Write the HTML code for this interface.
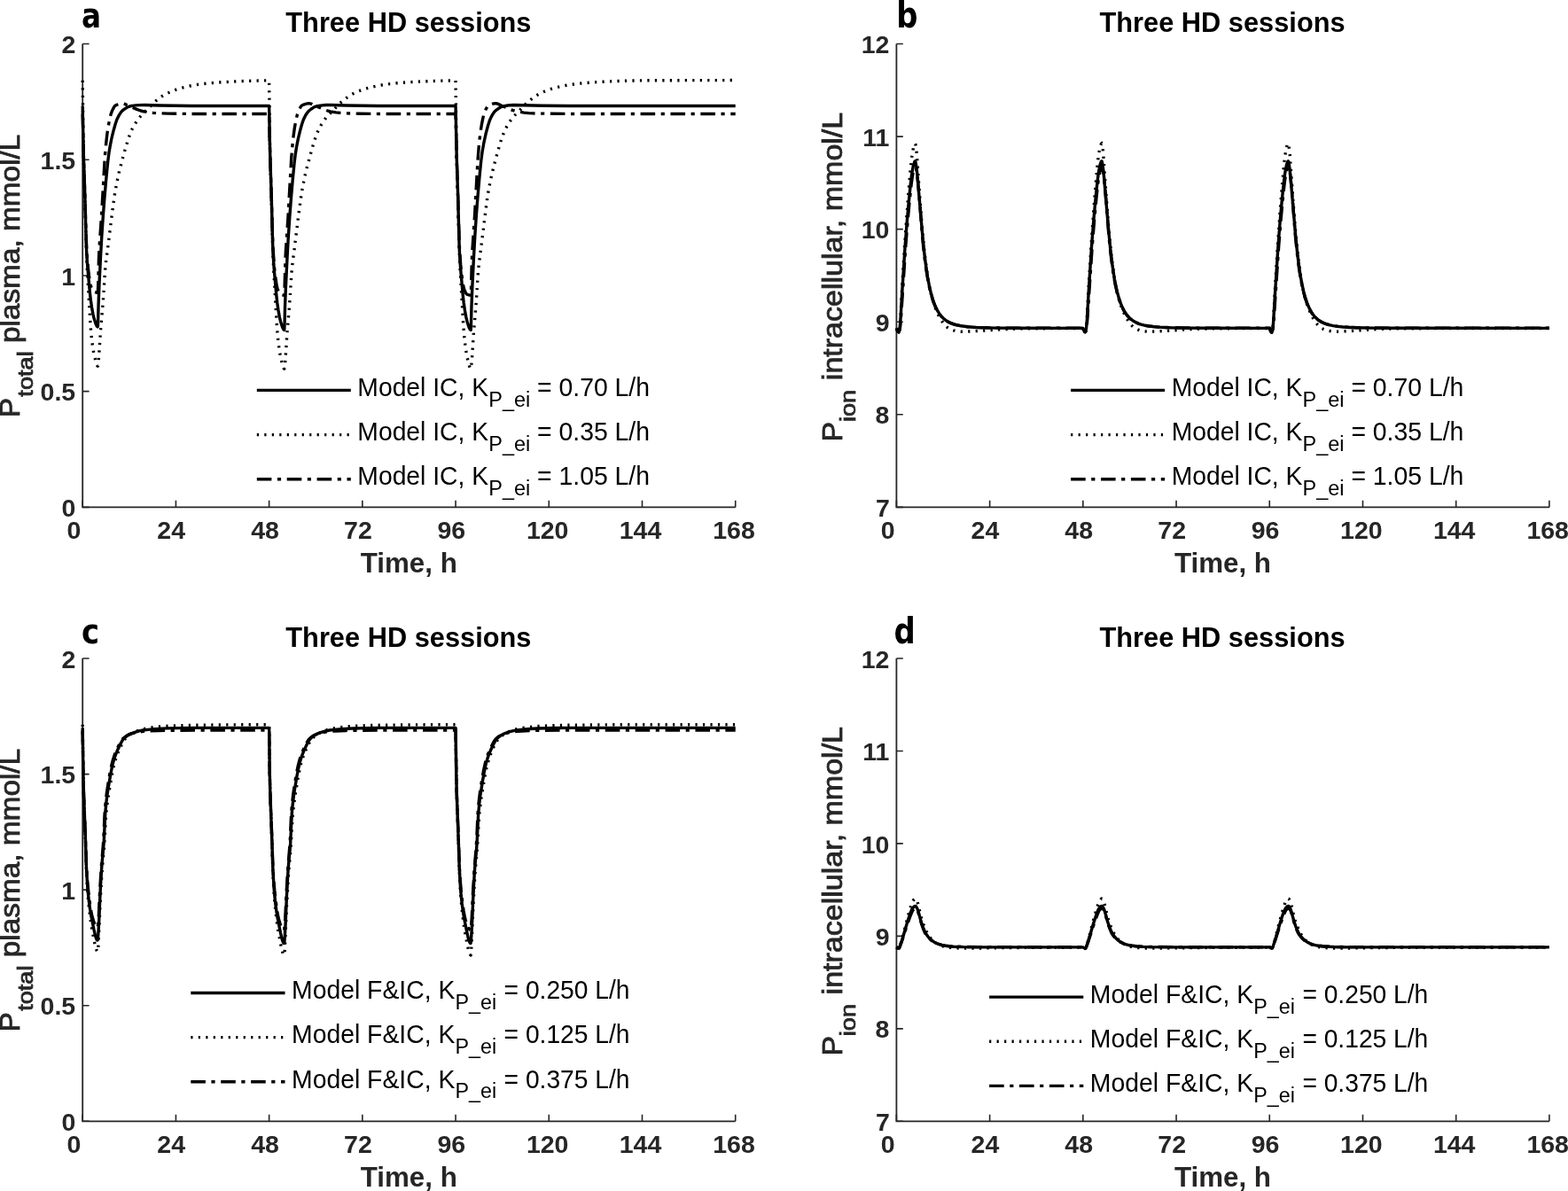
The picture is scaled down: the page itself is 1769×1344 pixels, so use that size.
<!DOCTYPE html>
<html><head><meta charset="utf-8"><title>Three HD sessions</title>
<style>
html,body{margin:0;padding:0;background:#fff;}
svg{display:block;}
text{font-family:"Liberation Sans",Arial,sans-serif;}
</style></head>
<body>
<svg width="1769" height="1344" viewBox="0 0 1769 1344">
<rect width="1769" height="1344" fill="#fff"/>
<path d="M93.20,49.50 L93.20,572.40 L829.71,572.40" fill="none" stroke="#262626" stroke-width="1.8"/>
<path d="M93.20,572.40 v-7.6 M198.42,572.40 v-7.6 M303.63,572.40 v-7.6 M408.85,572.40 v-7.6 M514.06,572.40 v-7.6 M619.28,572.40 v-7.6 M724.50,572.40 v-7.6 M829.71,572.40 v-7.6 M93.20,572.40 h7.4 M93.20,441.67 h7.4 M93.20,310.95 h7.4 M93.20,180.23 h7.4 M93.20,49.50 h7.4" fill="none" stroke="#262626" stroke-width="1.6"/>
<text transform="translate(75.52,608.40) scale(1.0000,1)" style="font-size:28.5px;font-weight:bold;" fill="#262626">0</text>
<text transform="translate(177.37,608.40) scale(1.0000,1)" style="font-size:28.5px;font-weight:bold;" fill="#262626">24</text>
<text transform="translate(283.16,608.40) scale(1.0000,1)" style="font-size:28.5px;font-weight:bold;" fill="#262626">48</text>
<text transform="translate(388.09,608.40) scale(1.0000,1)" style="font-size:28.5px;font-weight:bold;" fill="#262626">72</text>
<text transform="translate(493.45,608.40) scale(1.0000,1)" style="font-size:28.5px;font-weight:bold;" fill="#262626">96</text>
<text transform="translate(593.90,608.40) scale(1.0000,1)" style="font-size:28.5px;font-weight:bold;" fill="#262626">120</text>
<text transform="translate(698.69,608.40) scale(1.0000,1)" style="font-size:28.5px;font-weight:bold;" fill="#262626">144</text>
<text transform="translate(804.19,608.40) scale(1.0000,1)" style="font-size:28.5px;font-weight:bold;" fill="#262626">168</text>
<text transform="translate(69.48,583.00) scale(1.0000,1)" style="font-size:28.5px;font-weight:bold;" fill="#262626">0</text>
<text transform="translate(45.54,452.27) scale(1.0000,1)" style="font-size:28.5px;font-weight:bold;" fill="#262626">0.5</text>
<text transform="translate(69.20,321.55) scale(1.0000,1)" style="font-size:28.5px;font-weight:bold;" fill="#262626">1</text>
<text transform="translate(45.54,190.83) scale(1.0000,1)" style="font-size:28.5px;font-weight:bold;" fill="#262626">1.5</text>
<text transform="translate(69.48,60.10) scale(1.0000,1)" style="font-size:28.5px;font-weight:bold;" fill="#262626">2</text>
<path d="M1011.40,49.50 L1011.40,572.40 L1747.91,572.40" fill="none" stroke="#262626" stroke-width="1.8"/>
<path d="M1011.40,572.40 v-7.6 M1116.62,572.40 v-7.6 M1221.83,572.40 v-7.6 M1327.05,572.40 v-7.6 M1432.26,572.40 v-7.6 M1537.48,572.40 v-7.6 M1642.70,572.40 v-7.6 M1747.91,572.40 v-7.6 M1011.40,572.40 h7.4 M1011.40,467.82 h7.4 M1011.40,363.24 h7.4 M1011.40,258.66 h7.4 M1011.40,154.08 h7.4 M1011.40,49.50 h7.4" fill="none" stroke="#262626" stroke-width="1.6"/>
<text transform="translate(993.72,608.40) scale(1.0000,1)" style="font-size:28.5px;font-weight:bold;" fill="#262626">0</text>
<text transform="translate(1095.57,608.40) scale(1.0000,1)" style="font-size:28.5px;font-weight:bold;" fill="#262626">24</text>
<text transform="translate(1201.36,608.40) scale(1.0000,1)" style="font-size:28.5px;font-weight:bold;" fill="#262626">48</text>
<text transform="translate(1306.29,608.40) scale(1.0000,1)" style="font-size:28.5px;font-weight:bold;" fill="#262626">72</text>
<text transform="translate(1411.65,608.40) scale(1.0000,1)" style="font-size:28.5px;font-weight:bold;" fill="#262626">96</text>
<text transform="translate(1512.10,608.40) scale(1.0000,1)" style="font-size:28.5px;font-weight:bold;" fill="#262626">120</text>
<text transform="translate(1616.89,608.40) scale(1.0000,1)" style="font-size:28.5px;font-weight:bold;" fill="#262626">144</text>
<text transform="translate(1722.39,608.40) scale(1.0000,1)" style="font-size:28.5px;font-weight:bold;" fill="#262626">168</text>
<text transform="translate(987.97,583.00) scale(1.0000,1)" style="font-size:28.5px;font-weight:bold;" fill="#262626">7</text>
<text transform="translate(987.39,478.42) scale(1.0000,1)" style="font-size:28.5px;font-weight:bold;" fill="#262626">8</text>
<text transform="translate(987.68,373.84) scale(1.0000,1)" style="font-size:28.5px;font-weight:bold;" fill="#262626">9</text>
<text transform="translate(971.72,269.26) scale(1.0000,1)" style="font-size:28.5px;font-weight:bold;" fill="#262626">10</text>
<text transform="translate(973.14,164.68) scale(1.0000,1)" style="font-size:28.5px;font-weight:bold;" fill="#262626">11</text>
<text transform="translate(971.72,60.10) scale(1.0000,1)" style="font-size:28.5px;font-weight:bold;" fill="#262626">12</text>
<path d="M93.20,743.00 L93.20,1265.30 L829.71,1265.30" fill="none" stroke="#262626" stroke-width="1.8"/>
<path d="M93.20,1265.30 v-7.6 M198.42,1265.30 v-7.6 M303.63,1265.30 v-7.6 M408.85,1265.30 v-7.6 M514.06,1265.30 v-7.6 M619.28,1265.30 v-7.6 M724.50,1265.30 v-7.6 M829.71,1265.30 v-7.6 M93.20,1265.30 h7.4 M93.20,1134.72 h7.4 M93.20,1004.15 h7.4 M93.20,873.58 h7.4 M93.20,743.00 h7.4" fill="none" stroke="#262626" stroke-width="1.6"/>
<text transform="translate(75.52,1301.30) scale(1.0000,1)" style="font-size:28.5px;font-weight:bold;" fill="#262626">0</text>
<text transform="translate(177.37,1301.30) scale(1.0000,1)" style="font-size:28.5px;font-weight:bold;" fill="#262626">24</text>
<text transform="translate(283.16,1301.30) scale(1.0000,1)" style="font-size:28.5px;font-weight:bold;" fill="#262626">48</text>
<text transform="translate(388.09,1301.30) scale(1.0000,1)" style="font-size:28.5px;font-weight:bold;" fill="#262626">72</text>
<text transform="translate(493.45,1301.30) scale(1.0000,1)" style="font-size:28.5px;font-weight:bold;" fill="#262626">96</text>
<text transform="translate(593.90,1301.30) scale(1.0000,1)" style="font-size:28.5px;font-weight:bold;" fill="#262626">120</text>
<text transform="translate(698.69,1301.30) scale(1.0000,1)" style="font-size:28.5px;font-weight:bold;" fill="#262626">144</text>
<text transform="translate(804.19,1301.30) scale(1.0000,1)" style="font-size:28.5px;font-weight:bold;" fill="#262626">168</text>
<text transform="translate(69.48,1275.90) scale(1.0000,1)" style="font-size:28.5px;font-weight:bold;" fill="#262626">0</text>
<text transform="translate(45.54,1145.32) scale(1.0000,1)" style="font-size:28.5px;font-weight:bold;" fill="#262626">0.5</text>
<text transform="translate(69.20,1014.75) scale(1.0000,1)" style="font-size:28.5px;font-weight:bold;" fill="#262626">1</text>
<text transform="translate(45.54,884.18) scale(1.0000,1)" style="font-size:28.5px;font-weight:bold;" fill="#262626">1.5</text>
<text transform="translate(69.48,753.60) scale(1.0000,1)" style="font-size:28.5px;font-weight:bold;" fill="#262626">2</text>
<path d="M1011.40,743.00 L1011.40,1265.30 L1747.91,1265.30" fill="none" stroke="#262626" stroke-width="1.8"/>
<path d="M1011.40,1265.30 v-7.6 M1116.62,1265.30 v-7.6 M1221.83,1265.30 v-7.6 M1327.05,1265.30 v-7.6 M1432.26,1265.30 v-7.6 M1537.48,1265.30 v-7.6 M1642.70,1265.30 v-7.6 M1747.91,1265.30 v-7.6 M1011.40,1265.30 h7.4 M1011.40,1160.84 h7.4 M1011.40,1056.38 h7.4 M1011.40,951.92 h7.4 M1011.40,847.46 h7.4 M1011.40,743.00 h7.4" fill="none" stroke="#262626" stroke-width="1.6"/>
<text transform="translate(993.72,1301.30) scale(1.0000,1)" style="font-size:28.5px;font-weight:bold;" fill="#262626">0</text>
<text transform="translate(1095.57,1301.30) scale(1.0000,1)" style="font-size:28.5px;font-weight:bold;" fill="#262626">24</text>
<text transform="translate(1201.36,1301.30) scale(1.0000,1)" style="font-size:28.5px;font-weight:bold;" fill="#262626">48</text>
<text transform="translate(1306.29,1301.30) scale(1.0000,1)" style="font-size:28.5px;font-weight:bold;" fill="#262626">72</text>
<text transform="translate(1411.65,1301.30) scale(1.0000,1)" style="font-size:28.5px;font-weight:bold;" fill="#262626">96</text>
<text transform="translate(1512.10,1301.30) scale(1.0000,1)" style="font-size:28.5px;font-weight:bold;" fill="#262626">120</text>
<text transform="translate(1616.89,1301.30) scale(1.0000,1)" style="font-size:28.5px;font-weight:bold;" fill="#262626">144</text>
<text transform="translate(1722.39,1301.30) scale(1.0000,1)" style="font-size:28.5px;font-weight:bold;" fill="#262626">168</text>
<text transform="translate(987.97,1275.90) scale(1.0000,1)" style="font-size:28.5px;font-weight:bold;" fill="#262626">7</text>
<text transform="translate(987.39,1171.44) scale(1.0000,1)" style="font-size:28.5px;font-weight:bold;" fill="#262626">8</text>
<text transform="translate(987.68,1066.98) scale(1.0000,1)" style="font-size:28.5px;font-weight:bold;" fill="#262626">9</text>
<text transform="translate(971.72,962.52) scale(1.0000,1)" style="font-size:28.5px;font-weight:bold;" fill="#262626">10</text>
<text transform="translate(973.14,858.06) scale(1.0000,1)" style="font-size:28.5px;font-weight:bold;" fill="#262626">11</text>
<text transform="translate(971.72,753.60) scale(1.0000,1)" style="font-size:28.5px;font-weight:bold;" fill="#262626">12</text>
<text transform="translate(322.29,36.20) scale(0.9869,1)" style="font-size:31.2px;font-weight:bold;" fill="#000">Three HD sessions</text>
<text transform="translate(406.69,645.90) scale(1.0278,1)" style="font-size:30.5px;font-weight:bold;" fill="#262626">Time, h</text>
<text transform="translate(1240.49,36.20) scale(0.9869,1)" style="font-size:31.2px;font-weight:bold;" fill="#000">Three HD sessions</text>
<text transform="translate(1324.89,645.90) scale(1.0278,1)" style="font-size:30.5px;font-weight:bold;" fill="#262626">Time, h</text>
<text transform="translate(322.29,730.20) scale(0.9869,1)" style="font-size:31.2px;font-weight:bold;" fill="#000">Three HD sessions</text>
<text transform="translate(406.69,1339.10) scale(1.0278,1)" style="font-size:30.5px;font-weight:bold;" fill="#262626">Time, h</text>
<text transform="translate(1240.49,730.20) scale(0.9869,1)" style="font-size:31.2px;font-weight:bold;" fill="#000">Three HD sessions</text>
<text transform="translate(1324.89,1339.10) scale(1.0278,1)" style="font-size:30.5px;font-weight:bold;" fill="#262626">Time, h</text>
<text transform="translate(92.09,31.10) scale(0.8532,1)" style="font-size:38.3px;font-weight:bold;font-family:'DejaVu Sans',sans-serif;" fill="#000">a</text>
<text transform="translate(1011.19,31.10) scale(0.8411,1)" style="font-size:40.3px;font-weight:bold;font-family:'DejaVu Sans',sans-serif;" fill="#000">b</text>
<text transform="translate(92.04,725.60) scale(0.9282,1)" style="font-size:36.5px;font-weight:bold;font-family:'DejaVu Sans',sans-serif;" fill="#000">c</text>
<text transform="translate(1008.44,725.80) scale(0.8411,1)" style="font-size:40.3px;font-weight:bold;font-family:'DejaVu Sans',sans-serif;" fill="#000">d</text>
<text transform="translate(21.80,471.05) rotate(-90) scale(1.0359,1)" style="font-size:32px;" fill="#262626" stroke="#262626" stroke-width="0.8">P</text>
<text transform="translate(37.20,447.67) rotate(-90) scale(1.1332,1)" style="font-size:24px;" fill="#262626" stroke="#262626" stroke-width="0.8">total</text>
<text transform="translate(21.80,387.10) rotate(-90) scale(1.0430,1)" style="font-size:32px;" fill="#262626" stroke="#262626" stroke-width="0.8">plasma, mmol/L</text>
<text transform="translate(949.50,498.17) rotate(-90) scale(1.0417,1)" style="font-size:32px;" fill="#262626" stroke="#262626" stroke-width="0.8">P</text>
<text transform="translate(964.80,476.11) rotate(-90) scale(1.1354,1)" style="font-size:24px;" fill="#262626" stroke="#262626" stroke-width="0.8">ion</text>
<text transform="translate(949.50,429.18) rotate(-90) scale(1.0630,1)" style="font-size:32px;" fill="#262626" stroke="#262626" stroke-width="0.8">intracellular, mmol/L</text>
<text transform="translate(21.80,1164.25) rotate(-90) scale(1.0359,1)" style="font-size:32px;" fill="#262626" stroke="#262626" stroke-width="0.8">P</text>
<text transform="translate(37.20,1140.87) rotate(-90) scale(1.1332,1)" style="font-size:24px;" fill="#262626" stroke="#262626" stroke-width="0.8">total</text>
<text transform="translate(21.80,1080.30) rotate(-90) scale(1.0430,1)" style="font-size:32px;" fill="#262626" stroke="#262626" stroke-width="0.8">plasma, mmol/L</text>
<text transform="translate(949.50,1191.37) rotate(-90) scale(1.0417,1)" style="font-size:32px;" fill="#262626" stroke="#262626" stroke-width="0.8">P</text>
<text transform="translate(964.80,1169.31) rotate(-90) scale(1.1354,1)" style="font-size:24px;" fill="#262626" stroke="#262626" stroke-width="0.8">ion</text>
<text transform="translate(949.50,1122.38) rotate(-90) scale(1.0630,1)" style="font-size:32px;" fill="#262626" stroke="#262626" stroke-width="0.8">intracellular, mmol/L</text>
<path d="M289.80,440.40 H395.80" stroke="#000" stroke-width="3.4" fill="none" />
<text transform="translate(403.34,447.10) scale(0.9760,1)" style="font-size:29px;" fill="#000">Model IC, K</text>
<text transform="translate(551.22,459.00) scale(0.9789,1)" style="font-size:24px;" fill="#000">P_ei</text>
<text transform="translate(606.08,447.10) scale(0.9783,1)" style="font-size:29px;" fill="#000">= 0.70 L/h</text>
<path d="M289.80,490.55 H395.80" stroke="#000" stroke-width="3.3" fill="none" stroke-dasharray="2.2 6.28"/>
<text transform="translate(403.34,497.25) scale(0.9760,1)" style="font-size:29px;" fill="#000">Model IC, K</text>
<text transform="translate(551.22,509.15) scale(0.9789,1)" style="font-size:24px;" fill="#000">P_ei</text>
<text transform="translate(606.08,497.25) scale(0.9783,1)" style="font-size:29px;" fill="#000">= 0.35 L/h</text>
<path d="M289.80,540.70 H395.80" stroke="#000" stroke-width="3.4" fill="none" stroke-dasharray="16.6 6.5 4.2 6.6"/>
<text transform="translate(403.34,547.40) scale(0.9760,1)" style="font-size:29px;" fill="#000">Model IC, K</text>
<text transform="translate(551.22,559.30) scale(0.9789,1)" style="font-size:24px;" fill="#000">P_ei</text>
<text transform="translate(606.08,547.40) scale(0.9783,1)" style="font-size:29px;" fill="#000">= 1.05 L/h</text>
<path d="M1208.10,440.40 H1314.10" stroke="#000" stroke-width="3.4" fill="none" />
<text transform="translate(1321.64,447.10) scale(0.9760,1)" style="font-size:29px;" fill="#000">Model IC, K</text>
<text transform="translate(1469.52,459.00) scale(0.9789,1)" style="font-size:24px;" fill="#000">P_ei</text>
<text transform="translate(1524.38,447.10) scale(0.9783,1)" style="font-size:29px;" fill="#000">= 0.70 L/h</text>
<path d="M1208.10,490.55 H1314.10" stroke="#000" stroke-width="3.3" fill="none" stroke-dasharray="2.2 6.28"/>
<text transform="translate(1321.64,497.25) scale(0.9760,1)" style="font-size:29px;" fill="#000">Model IC, K</text>
<text transform="translate(1469.52,509.15) scale(0.9789,1)" style="font-size:24px;" fill="#000">P_ei</text>
<text transform="translate(1524.38,497.25) scale(0.9783,1)" style="font-size:29px;" fill="#000">= 0.35 L/h</text>
<path d="M1208.10,540.70 H1314.10" stroke="#000" stroke-width="3.4" fill="none" stroke-dasharray="16.6 6.5 4.2 6.6"/>
<text transform="translate(1321.64,547.40) scale(0.9760,1)" style="font-size:29px;" fill="#000">Model IC, K</text>
<text transform="translate(1469.52,559.30) scale(0.9789,1)" style="font-size:24px;" fill="#000">P_ei</text>
<text transform="translate(1524.38,547.40) scale(0.9783,1)" style="font-size:29px;" fill="#000">= 1.05 L/h</text>
<path d="M215.30,1120.50 H321.50" stroke="#000" stroke-width="3.4" fill="none" />
<text transform="translate(329.03,1127.20) scale(0.9779,1)" style="font-size:29px;" fill="#000">Model F&amp;IC, K</text>
<text transform="translate(513.43,1139.10) scale(0.9722,1)" style="font-size:24px;" fill="#000">P_ei</text>
<text transform="translate(568.59,1127.20) scale(0.9728,1)" style="font-size:29px;" fill="#000">= 0.250 L/h</text>
<path d="M215.30,1170.65 H321.50" stroke="#000" stroke-width="3.3" fill="none" stroke-dasharray="2.2 6.28"/>
<text transform="translate(329.03,1177.35) scale(0.9779,1)" style="font-size:29px;" fill="#000">Model F&amp;IC, K</text>
<text transform="translate(513.43,1189.25) scale(0.9722,1)" style="font-size:24px;" fill="#000">P_ei</text>
<text transform="translate(568.59,1177.35) scale(0.9728,1)" style="font-size:29px;" fill="#000">= 0.125 L/h</text>
<path d="M215.30,1220.80 H321.50" stroke="#000" stroke-width="3.4" fill="none" stroke-dasharray="16.6 6.5 4.2 6.6"/>
<text transform="translate(329.03,1227.50) scale(0.9779,1)" style="font-size:29px;" fill="#000">Model F&amp;IC, K</text>
<text transform="translate(513.43,1239.40) scale(0.9722,1)" style="font-size:24px;" fill="#000">P_ei</text>
<text transform="translate(568.59,1227.50) scale(0.9728,1)" style="font-size:29px;" fill="#000">= 0.375 L/h</text>
<path d="M1116.10,1125.10 H1222.30" stroke="#000" stroke-width="3.4" fill="none" />
<text transform="translate(1229.83,1131.80) scale(0.9779,1)" style="font-size:29px;" fill="#000">Model F&amp;IC, K</text>
<text transform="translate(1414.23,1143.70) scale(0.9722,1)" style="font-size:24px;" fill="#000">P_ei</text>
<text transform="translate(1469.39,1131.80) scale(0.9728,1)" style="font-size:29px;" fill="#000">= 0.250 L/h</text>
<path d="M1116.10,1175.25 H1222.30" stroke="#000" stroke-width="3.3" fill="none" stroke-dasharray="2.2 6.28"/>
<text transform="translate(1229.83,1181.95) scale(0.9779,1)" style="font-size:29px;" fill="#000">Model F&amp;IC, K</text>
<text transform="translate(1414.23,1193.85) scale(0.9722,1)" style="font-size:24px;" fill="#000">P_ei</text>
<text transform="translate(1469.39,1181.95) scale(0.9728,1)" style="font-size:29px;" fill="#000">= 0.125 L/h</text>
<path d="M1116.10,1225.40 H1222.30" stroke="#000" stroke-width="3.4" fill="none" stroke-dasharray="16.6 6.5 4.2 6.6"/>
<text transform="translate(1229.83,1232.10) scale(0.9779,1)" style="font-size:29px;" fill="#000">Model F&amp;IC, K</text>
<text transform="translate(1414.23,1244.00) scale(0.9722,1)" style="font-size:24px;" fill="#000">P_ei</text>
<text transform="translate(1469.39,1232.10) scale(0.9728,1)" style="font-size:29px;" fill="#000">= 0.375 L/h</text>
<path d="M93.20,90.81 L93.90,152.92 L94.43,181.99 L95.66,221.31 L97.23,278.65 L98.29,302.96 L101.62,360.13 L102.49,372.23 L103.37,381.83 L104.60,391.68 L106.18,400.53 L108.81,410.53 L109.51,412.32 L109.86,412.87 L110.21,413.11 L110.39,413.04 L110.74,411.18 L111.61,401.91 L113.54,372.34 L115.82,345.94 L117.22,326.17 L118.28,308.89 L118.98,300.63 L119.68,294.36 L121.61,279.88 L126.69,238.91 L129.32,219.70 L131.43,207.76 L134.06,195.46 L137.04,183.55 L141.60,167.12 L144.41,157.79 L146.86,150.76 L149.14,145.58 L152.12,140.10 L155.45,135.09 L157.38,132.56 L159.14,130.52 L165.80,123.89 L172.29,117.03 L176.50,113.33 L180.00,110.58 L183.07,108.43 L187.46,105.87 L194.03,102.80 L200.61,100.39 L209.38,98.06 L218.14,96.21 L226.91,94.85 L237.87,93.70 L251.02,92.68 L266.37,91.89 L286.10,91.14 L303.63,90.81 L304.33,153.49 L304.86,182.81 L306.09,222.50 L307.67,280.35 L308.72,304.88 L312.05,362.58 L312.93,374.78 L313.80,384.47 L315.03,394.41 L316.61,403.34 L319.24,413.44 L319.94,415.24 L320.29,415.79 L320.64,416.04 L320.82,415.96 L321.17,414.09 L322.04,404.73 L323.97,374.90 L326.25,348.25 L327.66,328.30 L328.71,310.87 L329.41,302.54 L330.11,296.21 L332.04,281.60 L337.13,240.26 L339.76,220.87 L341.86,208.82 L344.49,196.41 L347.47,184.39 L352.03,167.82 L354.84,158.40 L357.29,151.30 L359.57,146.07 L362.55,140.55 L365.88,135.49 L367.81,132.94 L369.57,130.88 L376.23,124.19 L382.72,117.27 L386.93,113.54 L390.44,110.76 L393.50,108.59 L397.89,106.01 L404.46,102.91 L411.04,100.48 L419.81,98.12 L428.58,96.25 L437.34,94.89 L448.30,93.73 L461.46,92.70 L476.80,91.90 L496.53,91.14 L514.06,90.81 L514.77,153.49 L515.29,182.81 L516.52,222.50 L518.10,280.35 L519.15,304.88 L522.48,362.58 L523.36,374.78 L524.23,384.47 L525.46,394.41 L527.04,403.34 L529.67,413.44 L530.37,415.24 L530.72,415.79 L531.07,416.04 L531.25,415.96 L531.60,414.09 L532.48,404.73 L534.41,374.90 L536.69,348.25 L538.09,328.30 L539.14,310.87 L539.84,302.54 L540.54,296.21 L542.47,281.60 L548.08,236.14 L549.66,224.44 L551.06,215.44 L553.70,201.94 L556.85,188.45 L562.64,167.20 L564.74,160.08 L566.50,154.69 L568.95,148.32 L570.53,145.02 L572.28,141.75 L574.04,138.84 L575.97,135.98 L578.25,132.94 L580.17,130.68 L586.49,124.37 L592.10,118.35 L594.55,115.93 L600.69,110.89 L603.94,108.59 L606.13,107.21 L608.32,106.01 L612.70,103.88 L617.09,102.02 L621.47,100.48 L625.86,99.23 L632.43,97.61 L639.01,96.25 L643.39,95.50 L654.35,94.16 L669.70,92.84 L685.04,92.00 L709.15,91.08 L720.11,90.85 L739.84,90.74 L829.71,90.55" fill="none" stroke="#000" stroke-width="3.4" stroke-dasharray="2.2 6.28"/>
<path d="M93.20,128.46 L94.43,180.26 L95.66,215.75 L97.06,264.36 L97.93,283.60 L98.64,293.89 L99.34,301.85 L100.39,310.69 L101.44,317.81 L102.14,321.41 L102.84,323.86 L104.25,327.04 L104.95,328.22 L105.65,329.07 L106.35,329.53 L108.63,330.15 L110.21,330.31 L110.39,329.89 L110.74,321.43 L111.44,292.90 L111.79,284.43 L112.49,272.51 L114.59,242.64 L118.10,180.48 L118.63,173.06 L119.68,161.73 L120.73,152.36 L121.78,144.77 L123.36,136.03 L124.76,130.00 L125.47,127.73 L126.34,125.52 L127.40,123.16 L128.45,121.17 L129.15,120.12 L129.85,119.35 L130.38,118.96 L131.60,118.40 L133.36,117.73 L135.11,117.24 L136.86,116.94 L138.44,116.86 L139.67,117.02 L140.90,117.41 L145.11,119.41 L154.40,123.32 L157.38,124.48 L159.84,125.27 L162.29,125.85 L167.90,126.75 L172.64,127.37 L176.85,127.75 L189.65,128.13 L213.76,128.43 L303.63,128.46 L304.68,175.00 L306.09,216.99 L307.49,266.29 L308.02,279.58 L309.24,298.46 L309.94,306.01 L311.17,315.88 L312.22,322.46 L313.10,326.14 L314.68,329.86 L315.38,331.06 L316.08,331.92 L316.61,332.31 L318.01,332.78 L319.41,333.08 L320.64,333.17 L320.82,332.75 L320.99,329.63 L321.87,295.24 L322.40,283.28 L325.03,244.26 L328.71,178.45 L330.11,162.20 L331.16,152.70 L332.39,143.89 L333.97,135.27 L335.37,129.40 L336.07,127.23 L337.13,124.65 L339.05,120.78 L339.76,119.78 L340.46,119.07 L342.56,118.04 L344.67,117.30 L346.60,116.87 L348.52,116.70 L349.93,116.82 L351.68,117.39 L355.54,119.28 L365.36,123.47 L370.27,125.23 L372.72,125.81 L379.04,126.83 L383.77,127.43 L388.16,127.80 L404.46,128.20 L426.38,128.44 L514.06,128.46 L515.12,175.00 L516.52,216.99 L517.92,266.29 L518.45,279.58 L519.68,298.46 L520.38,306.01 L521.60,315.88 L522.66,322.46 L523.53,326.14 L525.11,329.86 L525.81,331.06 L526.51,331.92 L527.04,332.31 L528.27,332.73 L529.67,333.05 L530.90,333.17 L531.07,333.17 L531.25,332.75 L531.42,329.63 L532.30,295.24 L532.83,283.28 L535.46,244.26 L538.97,181.22 L540.19,165.80 L541.24,155.65 L542.30,147.38 L543.52,139.81 L544.93,132.85 L546.15,128.24 L547.73,124.24 L549.49,120.78 L550.36,119.57 L551.06,118.94 L553.34,117.90 L555.80,117.12 L558.25,116.73 L560.18,116.78 L562.11,117.39 L565.97,119.28 L576.14,123.61 L581.05,125.33 L584.38,126.03 L591.22,127.07 L596.31,127.63 L600.87,127.91 L621.47,128.30 L641.20,128.45 L829.71,128.46" fill="none" stroke="#000" stroke-width="3.4" stroke-dasharray="16.6 6.5 4.2 6.6"/>
<path d="M93.20,119.57 L93.90,157.81 L94.43,179.24 L95.66,215.52 L97.23,273.80 L97.58,282.49 L98.29,294.37 L99.16,305.50 L101.44,330.72 L102.32,338.55 L103.55,346.86 L104.95,354.59 L106.18,359.55 L107.75,364.48 L108.63,366.78 L109.51,368.34 L110.21,368.84 L110.39,368.27 L110.56,364.22 L111.09,343.21 L111.96,321.19 L113.54,288.95 L114.77,266.93 L116.35,243.38 L117.93,222.78 L119.68,202.79 L121.61,183.14 L122.84,173.11 L124.24,164.55 L125.99,155.79 L128.10,147.17 L130.20,139.69 L131.95,134.66 L134.23,130.14 L136.51,126.67 L138.09,124.95 L140.37,123.16 L142.83,121.55 L145.28,120.34 L147.04,119.77 L149.14,119.39 L153.17,118.86 L156.86,118.58 L162.82,118.57 L180.35,119.04 L215.95,119.54 L303.63,119.57 L304.33,158.35 L304.86,180.09 L306.09,216.88 L307.67,275.99 L308.02,284.80 L308.72,296.85 L309.59,308.14 L311.87,333.72 L312.75,341.66 L313.98,350.09 L315.38,357.92 L316.61,362.95 L318.19,367.96 L319.06,370.29 L319.94,371.87 L320.64,372.38 L320.82,371.80 L320.99,367.70 L321.52,346.39 L322.40,324.06 L323.97,291.36 L325.20,269.03 L326.78,245.14 L328.36,224.25 L330.11,203.97 L332.04,184.04 L333.27,173.87 L334.67,165.19 L336.42,156.30 L338.53,147.56 L340.63,139.98 L342.39,134.88 L344.67,130.29 L346.95,126.77 L348.52,125.03 L350.80,123.22 L353.26,121.58 L355.71,120.35 L357.47,119.77 L359.57,119.39 L363.61,118.85 L367.29,118.57 L373.25,118.56 L390.79,119.04 L426.38,119.54 L514.06,119.57 L514.77,158.35 L515.29,180.09 L516.52,216.88 L518.10,275.99 L518.45,284.81 L519.15,296.85 L520.03,308.14 L522.31,333.72 L523.18,341.66 L524.41,350.09 L525.81,357.92 L527.04,362.95 L528.62,367.96 L529.50,370.29 L530.37,371.87 L531.07,372.38 L531.25,371.80 L531.42,367.70 L531.95,346.39 L532.83,324.06 L534.41,291.36 L535.81,266.15 L537.39,242.68 L538.97,222.09 L541.07,198.27 L542.82,180.86 L544.05,171.53 L545.98,160.52 L548.08,151.02 L550.71,141.16 L552.47,135.77 L554.22,131.92 L555.62,129.38 L556.85,127.48 L558.08,125.92 L559.13,124.87 L561.24,123.22 L563.34,121.79 L565.27,120.74 L567.20,119.97 L568.78,119.58 L572.81,118.99 L575.97,118.68 L578.95,118.53 L612.70,119.23 L641.20,119.56 L829.71,119.57" fill="none" stroke="#000" stroke-width="3.4" stroke-linejoin="round"/>
<path d="M1011.40,370.56 L1012.63,373.54 L1013.33,374.83 L1013.68,375.23 L1013.86,375.26 L1014.21,374.65 L1014.56,373.31 L1014.91,371.61 L1015.26,368.85 L1015.96,358.68 L1017.71,324.23 L1020.52,278.40 L1022.97,242.90 L1025.25,213.37 L1027.36,189.45 L1028.59,178.02 L1029.64,171.19 L1030.51,166.71 L1031.04,164.79 L1031.74,162.88 L1032.09,162.19 L1032.44,161.92 L1032.79,162.63 L1033.32,165.57 L1033.85,169.38 L1034.37,174.74 L1036.30,203.10 L1039.11,241.11 L1040.51,258.85 L1041.74,272.26 L1043.32,287.00 L1045.07,301.07 L1047.00,314.96 L1048.58,324.12 L1050.86,333.92 L1053.49,342.81 L1055.06,347.20 L1056.82,351.53 L1058.57,355.37 L1060.15,358.39 L1061.73,361.01 L1064.01,364.36 L1065.76,366.63 L1067.34,368.32 L1068.74,369.46 L1071.20,370.93 L1073.48,372.04 L1075.58,372.79 L1078.39,373.40 L1082.25,373.99 L1084.88,374.20 L1087.68,374.21 L1093.47,374.01 L1105.66,373.35 L1131.96,371.61 L1149.50,370.96 L1171.42,370.70 L1221.83,370.56 L1222.71,372.82 L1223.76,374.83 L1224.11,375.23 L1224.29,375.26 L1224.46,375.06 L1224.99,373.31 L1225.51,370.47 L1226.04,364.42 L1228.14,324.23 L1231.13,275.68 L1233.76,238.13 L1236.21,207.13 L1238.14,185.79 L1239.19,176.79 L1240.24,170.18 L1241.12,165.99 L1242.17,162.88 L1242.52,162.19 L1242.88,161.92 L1243.23,162.63 L1243.75,165.57 L1244.28,169.38 L1244.80,174.74 L1246.73,203.10 L1249.54,241.11 L1250.94,258.85 L1252.17,272.26 L1253.57,285.47 L1255.15,298.40 L1257.25,313.79 L1258.83,323.25 L1261.11,333.24 L1263.57,341.75 L1264.97,345.80 L1266.55,349.86 L1268.13,353.51 L1269.71,356.76 L1271.28,359.61 L1273.21,362.59 L1275.32,365.53 L1277.07,367.61 L1278.30,368.79 L1279.53,369.68 L1281.81,371.03 L1284.08,372.11 L1286.72,372.98 L1290.75,373.73 L1294.26,374.14 L1297.59,374.21 L1303.55,374.03 L1316.09,373.35 L1342.39,371.61 L1359.93,370.96 L1381.85,370.70 L1432.26,370.56 L1433.14,372.82 L1434.19,374.83 L1434.54,375.23 L1434.72,375.26 L1434.89,375.06 L1435.42,373.31 L1435.95,370.47 L1436.47,364.42 L1438.58,324.23 L1441.56,275.68 L1444.19,238.13 L1446.64,207.13 L1448.57,185.79 L1449.62,176.79 L1450.68,170.18 L1451.55,165.99 L1452.61,162.88 L1452.96,162.19 L1453.31,161.92 L1453.66,162.63 L1454.18,165.57 L1454.71,169.38 L1455.24,174.74 L1457.17,203.10 L1459.97,241.11 L1462.43,270.48 L1463.83,283.92 L1465.23,295.68 L1467.34,311.38 L1468.74,320.39 L1470.49,328.92 L1472.60,337.14 L1474.88,344.34 L1477.51,351.12 L1480.14,356.76 L1482.59,361.01 L1484.70,364.11 L1486.45,366.42 L1488.03,368.15 L1489.43,369.34 L1493.11,371.48 L1494.87,372.25 L1496.62,372.84 L1502.06,373.86 L1506.62,374.22 L1513.28,374.06 L1526.52,373.35 L1552.82,371.61 L1565.98,371.09 L1576.94,370.82 L1629.54,370.57 L1747.91,370.56" fill="none" stroke="#000" stroke-width="3.4" stroke-dasharray="2.2 6.28"/>
<path d="M1011.40,370.25 L1012.45,373.26 L1013.33,374.48 L1013.86,374.74 L1014.38,374.00 L1014.91,372.40 L1015.26,371.03 L1015.61,368.66 L1016.66,356.01 L1021.92,276.18 L1024.03,250.08 L1025.95,228.81 L1028.06,208.75 L1029.29,199.52 L1030.34,194.42 L1031.22,191.40 L1032.27,189.68 L1032.79,189.20 L1033.14,189.12 L1033.50,189.87 L1034.02,192.48 L1034.72,196.97 L1035.25,201.71 L1037.35,225.52 L1040.69,267.86 L1041.74,278.71 L1042.96,289.68 L1044.54,301.81 L1046.30,313.02 L1048.05,322.27 L1049.98,330.60 L1052.26,338.46 L1053.49,341.96 L1054.89,345.45 L1056.29,348.47 L1057.70,351.07 L1059.27,353.60 L1060.85,355.75 L1062.61,357.77 L1064.36,359.48 L1066.29,361.05 L1068.39,362.47 L1070.67,363.73 L1073.13,364.82 L1075.76,365.77 L1078.56,366.57 L1084.53,367.78 L1091.89,368.69 L1101.27,369.35 L1112.23,369.76 L1125.38,370.01 L1145.11,370.16 L1221.83,370.25 L1222.53,372.44 L1223.06,373.57 L1223.94,374.63 L1224.29,374.74 L1224.46,374.62 L1224.99,373.54 L1225.69,371.03 L1226.04,368.66 L1226.57,363.18 L1232.35,276.18 L1234.81,246.01 L1237.09,221.80 L1239.02,204.31 L1240.07,197.70 L1240.95,193.70 L1241.65,191.40 L1242.70,189.68 L1243.23,189.20 L1243.58,189.12 L1243.75,189.36 L1244.10,190.59 L1244.98,195.70 L1245.86,203.52 L1247.79,225.52 L1250.77,263.79 L1252.34,280.37 L1254.62,299.30 L1255.85,307.69 L1257.08,315.02 L1258.66,323.10 L1260.41,330.60 L1262.34,337.37 L1264.27,342.88 L1266.37,347.75 L1268.65,351.96 L1271.11,355.52 L1273.91,358.66 L1276.19,360.65 L1278.82,362.47 L1281.63,363.98 L1284.79,365.29 L1288.29,366.39 L1292.15,367.28 L1296.54,368.01 L1301.45,368.60 L1307.23,369.08 L1313.90,369.45 L1322.66,369.76 L1335.82,370.01 L1366.50,370.20 L1432.26,370.25 L1433.32,373.26 L1434.19,374.48 L1434.72,374.74 L1435.25,374.00 L1436.12,371.03 L1436.47,368.66 L1437.00,363.18 L1442.79,276.18 L1445.24,246.01 L1447.52,221.80 L1449.45,204.31 L1450.50,197.70 L1451.38,193.70 L1452.08,191.40 L1453.13,189.68 L1453.66,189.20 L1454.01,189.12 L1454.18,189.36 L1454.53,190.59 L1455.41,195.70 L1456.29,203.52 L1458.22,225.52 L1461.37,265.85 L1463.13,283.59 L1464.35,293.97 L1465.76,304.23 L1467.16,313.02 L1468.74,321.42 L1470.67,329.91 L1472.60,336.81 L1474.70,342.88 L1477.16,348.47 L1479.79,353.07 L1482.59,356.80 L1484.17,358.49 L1485.75,359.93 L1487.50,361.31 L1489.26,362.47 L1492.41,364.15 L1495.92,365.54 L1499.78,366.66 L1504.34,367.60 L1509.42,368.33 L1515.38,368.91 L1522.14,369.35 L1530.90,369.69 L1548.44,370.03 L1576.94,370.20 L1747.91,370.25" fill="none" stroke="#000" stroke-width="3.4" stroke-dasharray="16.6 6.5 4.2 6.6"/>
<path d="M1011.40,370.35 L1012.45,373.24 L1013.33,374.55 L1013.86,374.84 L1014.21,374.30 L1014.56,373.11 L1015.26,369.26 L1016.13,358.00 L1017.71,330.16 L1021.04,278.69 L1022.80,255.78 L1024.73,233.29 L1027.01,210.26 L1028.59,197.04 L1029.64,190.75 L1030.51,186.51 L1031.74,182.76 L1032.09,182.07 L1032.44,181.79 L1032.79,182.40 L1033.32,184.91 L1034.02,189.29 L1034.55,193.83 L1040.69,264.64 L1042.09,279.05 L1043.32,290.04 L1044.89,302.12 L1046.47,312.26 L1048.23,321.65 L1049.98,329.42 L1052.26,337.54 L1053.49,341.17 L1054.89,344.78 L1056.29,347.89 L1057.70,350.59 L1059.27,353.19 L1060.85,355.41 L1062.61,357.51 L1064.36,359.27 L1066.29,360.89 L1068.39,362.36 L1070.67,363.65 L1072.95,364.71 L1075.58,365.70 L1078.39,366.53 L1084.35,367.79 L1091.71,368.74 L1101.27,369.43 L1112.23,369.85 L1125.38,370.11 L1145.11,370.27 L1221.83,370.35 L1222.53,372.45 L1223.06,373.56 L1223.94,374.72 L1224.29,374.84 L1224.46,374.67 L1224.99,373.11 L1225.51,370.62 L1226.22,363.25 L1228.14,330.16 L1231.48,278.69 L1233.58,251.50 L1235.86,225.79 L1237.97,205.42 L1239.19,195.91 L1240.24,189.81 L1241.12,185.83 L1242.17,182.76 L1242.52,182.07 L1242.88,181.79 L1243.05,181.95 L1243.40,183.08 L1243.93,185.96 L1244.63,190.66 L1245.15,195.59 L1250.94,262.69 L1252.87,282.36 L1254.98,299.61 L1257.25,314.29 L1258.83,322.50 L1260.59,330.11 L1262.34,336.42 L1264.27,342.12 L1266.37,347.16 L1268.65,351.50 L1271.11,355.18 L1273.91,358.42 L1276.19,360.48 L1278.82,362.36 L1281.63,363.92 L1284.79,365.26 L1288.29,366.39 L1292.15,367.31 L1296.54,368.06 L1301.62,368.68 L1307.41,369.17 L1313.90,369.53 L1322.66,369.85 L1335.82,370.11 L1366.50,370.30 L1432.26,370.35 L1433.32,373.24 L1434.19,374.55 L1434.72,374.84 L1434.89,374.67 L1435.25,373.77 L1435.77,371.61 L1436.47,365.54 L1438.75,327.35 L1441.91,278.69 L1444.01,251.50 L1446.29,225.79 L1448.40,205.42 L1449.62,195.91 L1450.68,189.81 L1451.55,185.83 L1452.61,182.76 L1452.96,182.07 L1453.31,181.79 L1453.48,181.95 L1453.83,183.08 L1454.36,185.96 L1455.06,190.66 L1455.59,195.59 L1461.37,262.69 L1463.48,283.96 L1464.71,294.31 L1465.93,303.34 L1467.34,312.26 L1468.74,319.92 L1470.67,328.70 L1472.60,335.84 L1474.70,342.12 L1477.16,347.89 L1479.61,352.37 L1481.01,354.47 L1482.42,356.30 L1484.00,358.07 L1485.57,359.59 L1487.33,361.02 L1489.08,362.24 L1492.24,364.00 L1495.74,365.45 L1499.60,366.62 L1504.16,367.61 L1509.25,368.37 L1515.38,368.99 L1522.14,369.43 L1530.90,369.78 L1548.44,370.13 L1576.94,370.30 L1747.91,370.35" fill="none" stroke="#000" stroke-width="3.4" stroke-linejoin="round"/>
<path d="M93.20,817.69 L93.90,873.11 L94.43,895.70 L96.36,947.43 L97.41,981.05 L98.64,1003.75 L99.34,1013.03 L100.57,1025.65 L101.79,1036.05 L103.20,1045.67 L106.00,1060.55 L107.58,1067.81 L108.28,1070.36 L108.98,1072.31 L109.68,1073.53 L110.21,1073.89 L110.39,1073.74 L110.56,1072.59 L110.91,1067.58 L113.02,1019.54 L114.59,991.12 L115.47,978.74 L117.75,952.48 L119.33,923.84 L120.03,916.05 L121.08,906.67 L122.66,895.62 L125.64,877.89 L127.57,867.81 L129.15,861.16 L131.43,853.76 L133.88,847.43 L137.57,839.60 L139.14,836.77 L140.55,834.69 L141.60,833.45 L143.53,831.53 L145.28,830.02 L147.04,828.72 L150.19,826.85 L154.75,824.90 L159.49,823.30 L164.22,822.13 L171.24,820.99 L178.78,820.06 L185.26,819.49 L191.84,819.13 L204.99,818.62 L218.14,818.30 L261.98,817.85 L303.63,817.69 L304.33,873.95 L304.86,896.89 L306.79,949.41 L307.84,983.54 L309.07,1006.58 L309.77,1016.01 L311.00,1028.81 L312.22,1039.38 L313.63,1049.14 L316.43,1064.24 L318.01,1071.62 L318.71,1074.21 L319.41,1076.19 L320.12,1077.43 L320.64,1077.79 L320.82,1077.64 L320.99,1076.47 L321.34,1071.39 L323.45,1022.61 L325.03,993.76 L325.90,981.19 L328.18,954.53 L329.76,925.46 L330.46,917.55 L331.51,908.02 L333.09,896.80 L336.07,878.81 L338.00,868.57 L339.58,861.82 L341.86,854.31 L344.32,847.89 L348.00,839.93 L349.58,837.06 L350.98,834.95 L352.03,833.69 L353.96,831.74 L355.71,830.21 L357.47,828.89 L360.62,826.99 L365.18,825.01 L369.92,823.38 L374.65,822.20 L381.67,821.04 L389.21,820.10 L395.70,819.52 L402.27,819.15 L415.42,818.64 L428.58,818.31 L472.42,817.85 L514.06,817.69 L514.77,873.95 L515.29,896.89 L517.22,949.41 L518.27,983.54 L519.50,1006.58 L520.20,1016.01 L521.43,1028.81 L522.66,1039.38 L524.06,1049.14 L526.87,1064.24 L528.44,1071.62 L529.14,1074.21 L529.85,1076.19 L530.55,1077.43 L531.07,1077.79 L531.25,1077.64 L531.42,1076.47 L531.78,1071.39 L534.06,1018.94 L535.63,991.04 L536.33,981.19 L538.61,954.53 L540.37,923.19 L541.42,912.53 L542.65,902.69 L545.63,883.97 L547.73,872.08 L549.49,863.88 L551.42,856.99 L552.99,852.32 L554.57,848.30 L557.03,842.81 L558.96,838.93 L560.36,836.49 L561.76,834.50 L563.34,832.77 L565.27,830.95 L568.43,828.53 L571.58,826.73 L577.02,824.48 L582.28,822.85 L586.66,821.90 L595.43,820.59 L603.94,819.69 L610.51,819.26 L623.66,818.71 L636.82,818.35 L682.85,817.85 L720.11,817.69 L829.71,817.69" fill="none" stroke="#000" stroke-width="3.4" stroke-dasharray="2.2 6.28"/>
<path d="M93.20,823.96 L93.90,874.03 L94.43,894.83 L96.36,943.93 L97.41,974.99 L98.46,992.11 L99.34,1002.11 L100.74,1014.45 L102.14,1024.61 L103.37,1031.47 L104.77,1036.88 L105.83,1040.03 L106.70,1042.23 L107.58,1043.99 L108.28,1045.08 L109.33,1046.29 L110.03,1046.69 L110.21,1046.46 L110.56,1043.98 L111.44,1031.87 L112.66,1005.04 L114.24,979.01 L116.17,956.06 L116.87,946.27 L118.10,917.95 L119.15,905.48 L120.38,894.77 L121.78,885.39 L124.06,872.07 L125.82,863.55 L127.40,857.43 L129.50,851.09 L131.95,845.24 L135.81,837.64 L137.22,835.36 L138.44,833.75 L140.37,832.03 L143.00,830.21 L145.46,828.90 L148.09,827.92 L152.82,826.74 L157.56,825.88 L161.94,825.35 L167.90,824.95 L179.13,824.43 L189.65,824.21 L303.63,823.96 L304.33,874.74 L304.86,895.84 L306.79,945.63 L307.84,977.13 L308.89,994.50 L309.77,1004.64 L311.17,1017.16 L312.58,1027.45 L313.80,1034.42 L315.21,1039.90 L316.26,1043.10 L317.13,1045.33 L318.01,1047.12 L318.71,1048.21 L319.77,1049.44 L320.47,1049.85 L320.64,1049.62 L320.99,1047.10 L321.87,1034.82 L323.10,1007.61 L324.68,981.21 L326.60,957.94 L327.31,948.00 L328.53,919.28 L329.59,906.64 L330.81,895.77 L332.22,886.26 L334.50,872.76 L336.25,864.12 L337.83,857.91 L339.93,851.47 L342.39,845.54 L346.24,837.84 L347.65,835.52 L348.87,833.89 L350.80,832.15 L353.43,830.30 L355.89,828.97 L358.52,827.98 L363.25,826.78 L367.99,825.90 L372.37,825.37 L378.34,824.97 L389.56,824.43 L400.08,824.22 L514.06,823.96 L514.77,874.74 L515.29,895.84 L517.22,945.63 L518.27,977.13 L519.32,994.50 L520.20,1004.64 L521.60,1017.16 L523.01,1027.45 L524.23,1034.42 L525.64,1039.90 L526.69,1043.10 L527.57,1045.33 L528.44,1047.12 L529.14,1048.21 L530.20,1049.44 L530.90,1049.85 L531.07,1049.62 L531.42,1047.10 L532.30,1034.82 L533.53,1007.61 L535.11,981.21 L537.04,957.94 L537.74,948.00 L538.97,919.28 L540.19,904.88 L541.60,893.19 L543.88,878.75 L545.63,869.09 L547.38,861.16 L549.31,854.50 L550.71,850.54 L552.12,847.10 L554.40,842.26 L556.50,838.16 L557.90,835.79 L559.13,834.10 L560.01,833.17 L561.76,831.74 L564.74,829.78 L567.72,828.39 L571.41,827.32 L576.14,826.29 L580.00,825.68 L583.86,825.29 L592.98,824.73 L601.74,824.38 L612.70,824.21 L674.08,824.00 L829.71,823.96" fill="none" stroke="#000" stroke-width="3.4" stroke-dasharray="16.6 6.5 4.2 6.6"/>
<path d="M93.20,821.35 L93.90,873.67 L94.43,895.20 L96.36,945.87 L97.41,977.99 L98.64,999.16 L99.34,1007.64 L100.39,1017.23 L101.62,1026.33 L102.84,1033.72 L106.00,1049.10 L107.40,1055.22 L108.11,1057.70 L108.81,1059.59 L109.51,1060.76 L110.03,1061.07 L110.21,1060.83 L110.56,1058.08 L111.09,1050.14 L111.79,1037.39 L113.02,1008.06 L114.42,982.83 L115.12,973.27 L116.52,958.53 L117.22,949.62 L118.80,917.11 L119.68,907.52 L120.56,899.86 L121.78,891.32 L124.59,874.76 L126.34,865.87 L127.92,859.40 L130.03,852.80 L132.48,846.69 L136.51,838.30 L137.92,835.85 L139.14,834.11 L140.02,833.15 L141.77,831.60 L144.93,829.37 L148.09,827.76 L152.12,826.29 L156.86,824.93 L161.42,823.99 L166.85,823.33 L174.39,822.64 L187.46,821.92 L213.76,821.41 L303.63,821.35 L304.33,874.42 L304.86,896.24 L306.79,947.64 L307.84,980.21 L309.07,1001.68 L309.77,1010.28 L310.82,1020.01 L312.05,1029.24 L313.28,1036.74 L316.43,1052.33 L317.84,1058.54 L318.54,1061.05 L319.24,1062.97 L319.94,1064.16 L320.47,1064.47 L320.64,1064.23 L320.99,1061.44 L321.52,1053.39 L322.22,1040.46 L323.45,1010.71 L324.85,985.12 L325.55,975.43 L326.95,960.48 L327.66,951.44 L329.23,918.47 L330.11,908.74 L330.99,900.97 L332.22,892.31 L335.02,875.52 L336.78,866.50 L338.35,859.94 L340.46,853.24 L342.91,847.05 L346.95,838.54 L348.35,836.06 L349.58,834.29 L350.45,833.32 L352.21,831.74 L355.36,829.48 L358.52,827.85 L362.55,826.36 L367.29,824.98 L371.85,824.03 L377.28,823.35 L384.82,822.66 L397.89,821.93 L424.19,821.41 L514.06,821.35 L514.77,874.42 L515.29,896.24 L517.22,947.64 L518.27,980.21 L519.50,1001.68 L520.20,1010.28 L521.25,1020.01 L522.48,1029.24 L523.71,1036.74 L526.87,1052.33 L528.27,1058.54 L528.97,1061.05 L529.67,1062.97 L530.37,1064.16 L530.90,1064.47 L531.07,1064.23 L531.42,1061.44 L531.95,1053.39 L532.65,1040.46 L533.88,1010.71 L535.28,985.12 L535.98,975.43 L537.39,960.48 L538.09,951.44 L539.67,918.47 L540.72,907.05 L541.77,898.29 L544.40,881.64 L546.33,870.81 L548.08,862.65 L549.84,856.39 L551.24,852.27 L552.82,848.27 L555.45,842.47 L557.38,838.54 L558.78,836.06 L560.01,834.29 L561.06,833.15 L562.81,831.60 L565.80,829.48 L569.13,827.77 L574.21,825.97 L579.30,824.61 L583.68,823.82 L590.17,823.11 L598.06,822.45 L606.13,822.01 L625.86,821.53 L643.39,821.35 L829.71,821.35" fill="none" stroke="#000" stroke-width="3.4" stroke-linejoin="round"/>
<path d="M1011.40,1069.12 L1012.63,1069.92 L1014.03,1070.38 L1014.56,1069.94 L1015.08,1068.77 L1017.71,1059.74 L1023.68,1036.24 L1027.01,1024.79 L1028.94,1019.09 L1029.81,1016.90 L1030.34,1016.05 L1031.39,1014.79 L1032.09,1014.24 L1032.62,1014.07 L1033.14,1014.29 L1033.67,1014.94 L1034.72,1016.86 L1035.07,1017.76 L1036.65,1023.66 L1038.76,1033.45 L1040.16,1038.23 L1041.74,1042.79 L1043.49,1047.21 L1045.07,1050.80 L1046.82,1054.13 L1048.40,1056.66 L1050.15,1059.01 L1052.08,1061.14 L1054.01,1062.88 L1056.12,1064.41 L1058.40,1065.73 L1060.85,1066.83 L1063.66,1067.79 L1067.69,1068.74 L1072.25,1069.40 L1077.69,1069.83 L1084.53,1070.05 L1096.45,1070.05 L1153.88,1069.38 L1221.83,1069.12 L1223.06,1069.92 L1224.46,1070.38 L1224.99,1069.94 L1225.51,1068.77 L1227.79,1061.02 L1233.76,1037.55 L1236.04,1029.43 L1237.79,1023.71 L1239.54,1018.60 L1240.42,1016.57 L1242.00,1014.62 L1242.52,1014.24 L1243.05,1014.07 L1243.58,1014.29 L1244.10,1014.94 L1245.15,1016.86 L1245.51,1017.76 L1247.08,1023.66 L1249.19,1033.45 L1250.59,1038.23 L1252.17,1042.79 L1253.92,1047.21 L1255.50,1050.80 L1257.25,1054.13 L1258.83,1056.66 L1260.59,1059.01 L1262.52,1061.14 L1264.44,1062.88 L1266.55,1064.41 L1268.83,1065.73 L1271.28,1066.83 L1274.09,1067.79 L1278.12,1068.74 L1282.68,1069.40 L1288.12,1069.83 L1294.96,1070.05 L1306.88,1070.05 L1364.31,1069.38 L1432.26,1069.12 L1433.49,1069.92 L1434.89,1070.38 L1435.42,1069.94 L1435.95,1068.77 L1438.23,1061.02 L1444.19,1037.55 L1446.47,1029.43 L1448.22,1023.71 L1449.98,1018.60 L1450.85,1016.57 L1452.43,1014.62 L1452.96,1014.24 L1453.48,1014.07 L1454.01,1014.29 L1454.71,1015.22 L1455.59,1016.86 L1456.11,1018.31 L1457.69,1024.41 L1459.80,1034.13 L1461.02,1038.23 L1462.43,1042.31 L1465.76,1050.43 L1467.16,1053.19 L1468.74,1055.86 L1470.67,1058.57 L1472.60,1060.78 L1474.70,1062.73 L1476.98,1064.41 L1479.44,1065.82 L1482.24,1067.04 L1485.22,1067.98 L1488.55,1068.74 L1492.76,1069.36 L1497.50,1069.76 L1503.11,1070.00 L1510.30,1070.08 L1559.40,1069.50 L1594.47,1069.27 L1747.91,1069.13" fill="none" stroke="#000" stroke-width="3.4" stroke-dasharray="2.2 6.28"/>
<path d="M1011.40,1068.71 L1012.45,1069.42 L1013.86,1069.95 L1014.38,1069.79 L1014.91,1069.02 L1017.54,1061.90 L1023.15,1044.52 L1027.36,1032.79 L1029.11,1028.58 L1029.99,1026.92 L1031.57,1025.45 L1032.62,1025.04 L1033.32,1025.27 L1034.20,1026.09 L1034.90,1027.01 L1035.42,1028.20 L1036.83,1032.45 L1039.28,1041.52 L1041.21,1047.16 L1042.96,1051.48 L1044.02,1053.56 L1044.89,1054.91 L1046.65,1057.24 L1048.40,1059.17 L1050.68,1061.19 L1053.14,1062.87 L1055.94,1064.32 L1058.92,1065.45 L1062.25,1066.36 L1066.11,1067.09 L1070.50,1067.64 L1075.58,1068.04 L1086.63,1068.46 L1103.46,1068.65 L1221.83,1068.71 L1222.71,1069.32 L1223.59,1069.73 L1224.29,1069.95 L1224.64,1069.92 L1225.16,1069.34 L1225.69,1068.24 L1227.79,1062.40 L1233.76,1044.00 L1237.97,1032.35 L1239.72,1028.20 L1240.42,1026.92 L1242.00,1025.45 L1243.05,1025.04 L1243.58,1025.17 L1244.28,1025.71 L1245.15,1026.72 L1245.68,1027.75 L1247.26,1032.45 L1249.36,1040.43 L1251.29,1046.19 L1253.57,1051.86 L1254.45,1053.56 L1255.50,1055.16 L1257.08,1057.24 L1258.83,1059.17 L1260.76,1060.91 L1262.69,1062.32 L1264.80,1063.56 L1267.07,1064.62 L1269.71,1065.56 L1272.51,1066.32 L1276.90,1067.15 L1282.16,1067.76 L1288.64,1068.18 L1296.71,1068.45 L1324.86,1068.68 L1432.26,1068.71 L1433.49,1069.50 L1434.89,1069.96 L1435.25,1069.79 L1435.60,1069.34 L1436.47,1067.32 L1438.75,1060.86 L1444.36,1043.49 L1446.99,1036.03 L1448.57,1031.93 L1450.15,1028.20 L1450.85,1026.92 L1452.43,1025.45 L1453.48,1025.04 L1454.01,1025.17 L1454.71,1025.71 L1455.59,1026.72 L1456.11,1027.75 L1457.69,1032.45 L1459.80,1040.43 L1462.43,1048.09 L1463.65,1051.09 L1464.71,1053.25 L1465.58,1054.66 L1467.34,1057.03 L1469.26,1059.17 L1471.19,1060.91 L1473.30,1062.44 L1475.58,1063.74 L1478.03,1064.83 L1480.84,1065.77 L1483.82,1066.52 L1487.33,1067.15 L1492.94,1067.79 L1500.13,1068.23 L1509.25,1068.49 L1522.14,1068.64 L1747.91,1068.71" fill="none" stroke="#000" stroke-width="3.4" stroke-dasharray="16.6 6.5 4.2 6.6"/>
<path d="M1011.40,1068.92 L1012.63,1069.71 L1014.03,1070.17 L1014.38,1069.99 L1014.91,1069.14 L1017.71,1060.74 L1023.68,1040.46 L1027.18,1029.85 L1028.59,1026.68 L1029.81,1024.51 L1031.39,1022.98 L1032.09,1022.55 L1032.62,1022.43 L1033.14,1022.64 L1033.67,1023.24 L1035.07,1025.79 L1036.65,1030.85 L1038.93,1039.39 L1041.04,1045.58 L1042.79,1049.98 L1044.02,1052.53 L1045.07,1054.27 L1046.82,1056.75 L1048.58,1058.80 L1050.86,1060.94 L1053.31,1062.72 L1056.12,1064.26 L1059.10,1065.46 L1062.43,1066.43 L1066.29,1067.20 L1070.67,1067.78 L1075.76,1068.21 L1086.80,1068.65 L1103.46,1068.85 L1221.83,1068.92 L1222.71,1069.53 L1223.59,1069.94 L1224.29,1070.16 L1224.64,1070.12 L1225.16,1069.49 L1225.69,1068.28 L1227.79,1061.85 L1233.58,1042.16 L1237.61,1029.85 L1239.02,1026.68 L1240.24,1024.51 L1241.82,1022.98 L1242.52,1022.55 L1243.05,1022.43 L1243.58,1022.64 L1244.10,1023.24 L1245.51,1025.79 L1247.26,1031.47 L1249.19,1038.81 L1251.29,1045.10 L1253.75,1051.14 L1254.80,1053.15 L1256.03,1055.05 L1257.61,1057.19 L1259.36,1059.16 L1261.11,1060.79 L1263.04,1062.26 L1265.15,1063.55 L1267.43,1064.65 L1269.88,1065.58 L1272.69,1066.38 L1277.25,1067.29 L1282.51,1067.92 L1288.82,1068.36 L1297.06,1068.65 L1324.86,1068.89 L1432.26,1068.92 L1433.49,1069.71 L1434.89,1070.17 L1435.25,1069.99 L1435.60,1069.49 L1436.47,1067.26 L1438.75,1060.16 L1444.36,1041.02 L1446.99,1032.84 L1448.22,1029.40 L1449.62,1026.32 L1450.68,1024.51 L1452.26,1022.98 L1452.96,1022.55 L1453.48,1022.43 L1454.01,1022.64 L1454.53,1023.24 L1455.59,1024.99 L1456.11,1026.27 L1457.69,1031.47 L1459.80,1039.39 L1461.55,1044.61 L1463.13,1048.75 L1465.06,1052.85 L1467.51,1056.52 L1469.44,1058.80 L1471.37,1060.64 L1473.47,1062.26 L1475.75,1063.64 L1478.21,1064.80 L1481.01,1065.80 L1484.00,1066.59 L1487.50,1067.26 L1493.29,1067.95 L1500.30,1068.41 L1509.42,1068.69 L1522.14,1068.84 L1747.91,1068.92" fill="none" stroke="#000" stroke-width="3.4" stroke-linejoin="round"/>
</svg>
</body></html>
